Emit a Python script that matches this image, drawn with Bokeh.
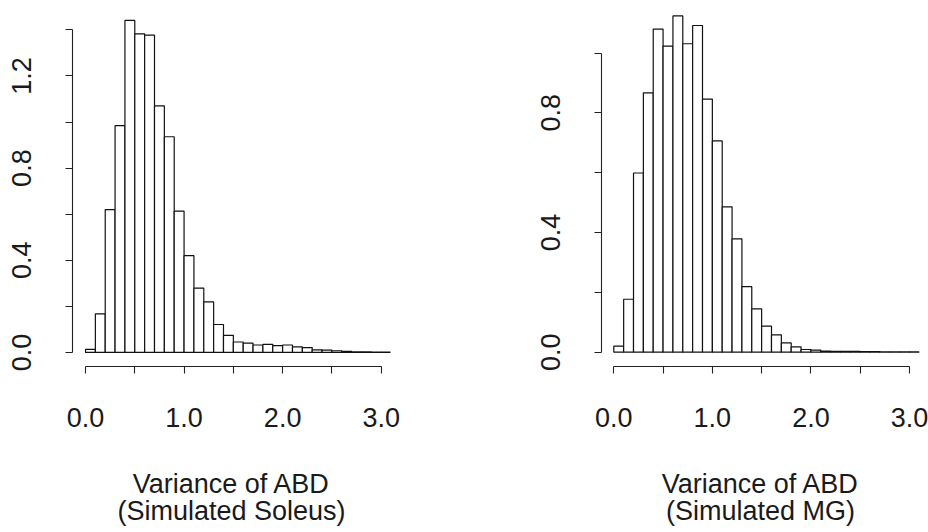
from bokeh.plotting import figure
from bokeh.layouts import row
from bokeh.models import FixedTicker, PrintfTickFormatter, Range1d, ColumnDataSource
from bokeh.embed import file_html
from bokeh.resources import INLINE

# ---- data ----
bin_edges = [0.0, 0.1, 0.2, 0.3, 0.4, 0.5, 0.6, 0.7, 0.8, 0.9, 1.0,
             1.1, 1.2, 1.3, 1.4, 1.5, 1.6, 1.7, 1.8, 1.9, 2.0,
             2.1, 2.2, 2.3, 2.4, 2.5, 2.6, 2.7, 2.8, 2.9, 3.0, 3.1]

soleus_density = [0.013, 0.167, 0.620, 0.984, 1.441, 1.383, 1.377, 1.070, 0.936, 0.613,
                  0.420, 0.279, 0.219, 0.121, 0.074, 0.045, 0.040, 0.032, 0.035, 0.029,
                  0.032, 0.024, 0.021, 0.011, 0.010, 0.007, 0.005, 0.002, 0.002, 0.001, 0.001]

mg_density = [0.020, 0.177, 0.599, 0.867, 1.080, 1.023, 1.124, 1.031, 1.092, 0.846,
              0.706, 0.486, 0.379, 0.219, 0.145, 0.087, 0.058, 0.031, 0.018, 0.009,
              0.007, 0.004, 0.003, 0.003, 0.003, 0.002, 0.002, 0.001, 0.001, 0.001, 0.001]

x_ticks_major = [0.0, 1.0, 2.0, 3.0]
x_ticks_minor = [0.5, 1.5, 2.5]
soleus_y_major = [0.0, 0.4, 0.8, 1.2]
soleus_y_minor = [0.2, 0.6, 1.0, 1.4]
mg_y_major = [0.0, 0.4, 0.8]
mg_y_minor = [0.2, 0.6, 1.0]

soleus_label = "Variance of ABD\n(Simulated Soleus)"
mg_label = "Variance of ABD\n(Simulated MG)"

FONT = "Liberation Sans"
FS = "27px"
TXT = "#1a1a1a"


def panel(values, xlabel, width, border_left, border_right, xr, yr, ymaj, ymin, ybound):
    p = figure(width=width, height=532, output_backend="svg", toolbar_location=None,
               title=None, x_range=Range1d(*xr), y_range=Range1d(*yr),
               min_border_left=border_left, min_border_right=border_right,
               min_border_top=2, min_border_bottom=166)
    p.grid.visible = False
    p.outline_line_color = None
    p.background_fill_color = "white"
    p.border_fill_color = "white"

    src = ColumnDataSource(dict(left=bin_edges[:-1], right=bin_edges[1:], top=values,
                                bottom=[0.0] * len(values)))
    p.quad(left="left", right="right", top="top", bottom="bottom", source=src,
           fill_color="white", line_color="#111111", line_width=1.2)

    for ax in (p.xaxis[0], p.yaxis[0]):
        ax.axis_line_color = "#222222"
        ax.axis_line_width = 1.1
        ax.major_tick_line_color = "#222222"
        ax.minor_tick_line_color = "#222222"
        ax.major_tick_line_width = 1.1
        ax.minor_tick_line_width = 1.1
        ax.major_tick_in = 0
        ax.major_tick_out = 7
        ax.minor_tick_in = 0
        ax.minor_tick_out = 7
        ax.major_label_text_font = FONT
        ax.major_label_text_font_size = FS
        ax.major_label_text_color = TXT
        ax.formatter = PrintfTickFormatter(format="%.1f")

    xa = p.xaxis[0]
    xa.ticker = FixedTicker(ticks=x_ticks_major, minor_ticks=x_ticks_minor)
    xa.bounds = (x_ticks_major[0], x_ticks_major[-1])
    xa.major_label_standoff = 34
    xa.axis_label = xlabel
    xa.axis_label_text_font = FONT
    xa.axis_label_text_font_size = FS
    xa.axis_label_text_font_style = "normal"
    xa.axis_label_text_color = TXT
    xa.axis_label_text_line_height = 0.9
    xa.axis_label_standoff = 39

    ya = p.yaxis[0]
    ya.ticker = FixedTicker(ticks=ymaj, minor_ticks=ymin)
    ya.bounds = ybound
    ya.major_label_orientation = "vertical"
    ya.major_label_standoff = 34
    return p


p1 = panel(soleus_density, soleus_label, 478, 72, 88,
           (-0.132, 3.0944), (-0.0613, 1.5189), soleus_y_major, soleus_y_minor, (0.0, 1.4))
p2 = panel(mg_density, mg_label, 450, 123, 9,
           (-0.1248, 3.1017), (-0.0478, 1.1688), mg_y_major, mg_y_minor, (0.0, 1.0))

layout = row(p1, p2, spacing=0)
open("out.html", "w").write(file_html(layout, INLINE))
